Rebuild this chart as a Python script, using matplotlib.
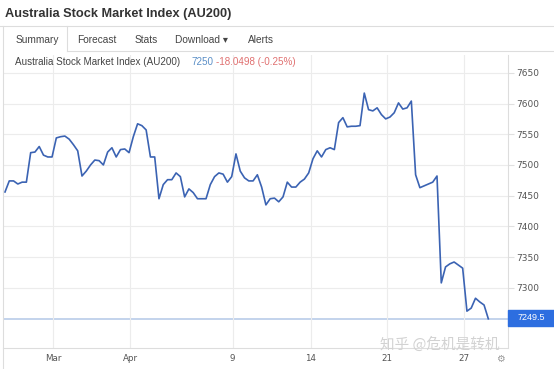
import matplotlib
matplotlib.use("Agg")
import matplotlib.pyplot as plt
from matplotlib.lines import Line2D
from matplotlib.patches import Rectangle
import numpy as np

# index values, one per period
prices = [7456, 7474, 7474, 7469, 7472, 7472, 7520, 7521, 7530, 7516,
          7513, 7513, 7544, 7546, 7547, 7542, 7533, 7523, 7482, 7490,
          7500, 7508, 7507, 7500, 7521, 7528, 7513, 7525, 7526, 7520,
          7546, 7567, 7564, 7557, 7513, 7513, 7445, 7468, 7476, 7476,
          7487, 7481, 7448, 7461, 7455, 7445, 7445, 7445, 7468, 7481,
          7487, 7485, 7472, 7481, 7518, 7490, 7479, 7474, 7474, 7484,
          7464, 7435, 7445, 7446, 7440, 7448, 7472, 7464, 7464, 7472,
          7477, 7487, 7510, 7523, 7513, 7525, 7528, 7525, 7569, 7577,
          7562, 7563, 7563, 7564, 7617, 7590, 7588, 7593, 7582, 7575,
          7578, 7585, 7601, 7591, 7593, 7604, 7484, 7463, 7466, 7469,
          7472, 7482, 7308, 7334, 7339, 7342, 7337, 7332, 7262, 7267,
          7283, 7277, 7272, 7249.5]
last_price = 7249.5

xtick_pos = [11.25, 29.3, 53.2, 71.5, 89.3, 107.2]
xtick_labels = ["Mar", "Apr", "9", "14", "21", "27"]
yticks = [7300, 7350, 7400, 7450, 7500, 7550, 7600, 7650]
tabs = ["Summary", "Forecast", "Stats", "Download \u25be", "Alerts"]
tab_x = [16, 77, 135, 175, 248]

W, H = 554, 369
fig = plt.figure(figsize=(W / 100, H / 100), dpi=100)
fig.patch.set_facecolor("white")
fam = ["Liberation Sans", "DejaVu Sans"]


def fx(px):
    return px / W


def fy(py):
    return 1 - py / H


# header
fig.text(fx(5), fy(14), "Australia Stock Market Index (AU200)", fontsize=9.2,
         fontweight="bold", color="#333333", va="center", family=fam)
fig.add_artist(Line2D([0, 1], [fy(26), fy(26)], color="#dddddd", lw=0.8))
fig.add_artist(Line2D([fx(3.5), fx(3.5)], [fy(26), 0], color="#dddddd", lw=0.8))
fig.add_artist(Line2D([fx(67), fx(67)], [fy(26), fy(51)], color="#dddddd", lw=0.8))
fig.add_artist(Line2D([fx(67), 1], [fy(51), fy(51)], color="#dddddd", lw=0.8))
for t, x in zip(tabs, tab_x):
    fig.text(fx(x), fy(40), t, fontsize=7.3, color="#444444", va="center",
             family=fam)

fig.text(fx(15), fy(62), "Australia Stock Market Index (AU200)", fontsize=7.1,
         color="#444444", va="center", family=fam)
fig.text(fx(191), fy(62), "7250", fontsize=7.1, color="#5b8fc7", va="center",
         family=fam)
fig.text(fx(216), fy(62), "-18.0498 (-0.25%)", fontsize=7.1, color="#e07070",
         va="center", family=fam)

# chart area
ax = fig.add_axes([fx(3.5), fy(348), fx(508) - fx(3.5), fy(55) - fy(348)])
ax.set_facecolor("none")
x = np.arange(len(prices))
ax.axhline(last_price, color="#b9cce9", lw=1.2, zorder=1)
ax.plot(x, prices, color="#3b63b3", lw=1.2, zorder=3)

ax.set_xlim(-0.35, 117.6)
ax.set_ylim(7202, 7679)
ax.set_yticks(yticks)
ax.set_xticks(xtick_pos)
ax.set_xticklabels(xtick_labels)
ax.yaxis.tick_right()
ax.grid(True, color="#ececec", lw=0.8)
ax.tick_params(axis="y", length=4, color="#e0e0e0", labelsize=6.5,
               labelcolor="#555555", pad=2)
ax.tick_params(axis="x", length=0, labelsize=6.3, labelcolor="#555555", pad=4)
for s in ["top", "left"]:
    ax.spines[s].set_visible(False)
ax.spines["right"].set_color("#dddddd")
ax.spines["bottom"].set_color("#dddddd")
ax.spines["right"].set_linewidth(0.8)
ax.spines["bottom"].set_linewidth(0.8)

# last price tag
fig.add_artist(Rectangle((fx(508), fy(326)), fx(554) - fx(508), fy(310) - fy(326),
                         color="#2d6ee0", zorder=5))
fig.text(fx(531), fy(318), f"{last_price}", fontsize=6.5, color="white",
         ha="center", va="center", zorder=6, family=fam)

fig.text(fx(500), fy(359), "\u2699", fontsize=7, color="#999999", ha="center",
         va="center", family="DejaVu Sans")
fig.text(fx(380), fy(344), "知乎 @危机是转机", fontsize=10.5, color="#d2d2d2",
         va="center", family=["Noto Sans CJK SC", "DejaVu Sans"])

fig.savefig("out.png", dpi=100)
